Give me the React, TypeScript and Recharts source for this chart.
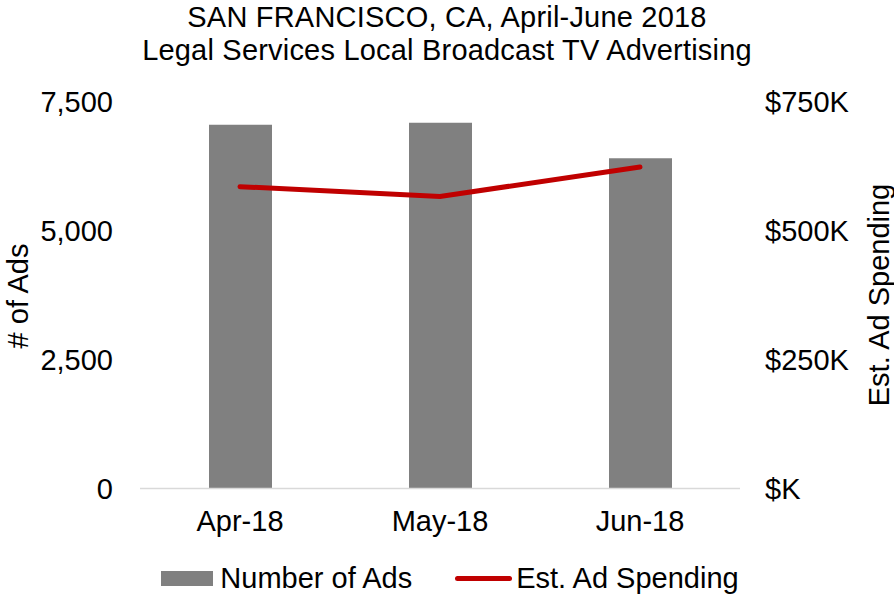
import React from 'react';
import {
  ComposedChart,
  Bar,
  Line,
  XAxis,
  YAxis,
  Legend,
} from 'recharts';

const months = ['Apr-18', 'May-18', 'Jun-18'];
const adCounts = [7050, 7090, 6400];
const adSpending = [585000, 566000, 623000];
const countTicks = [0, 2500, 5000, 7500];
const spendTicks = [0, 250000, 500000, 750000];

const FONT = '"Liberation Sans", Arial, sans-serif';
const GRAY = '#808080';
const RED = '#c00000';

const data = months.map((m, i) => ({
  month: m,
  ads: adCounts[i],
  spend: adSpending[i],
}));

const fmtCount = (v: number) => v.toLocaleString('en-US');
const fmtSpend = (v: number) => (v === 0 ? '$K' : `$${Math.round(v / 1000)}K`);

function LegendContent() {
  return (
    <div
      style={{
        height: 40,
        display: 'flex',
        alignItems: 'center',
        justifyContent: 'center',
        fontSize: 29,
        color: '#000',
        fontFamily: FONT,
        paddingLeft: 6,
      }}
    >
      <span style={{ display: 'inline-block', width: 52, height: 15, background: GRAY, marginRight: 7 }} />
      <span>Number of Ads</span>
      <span
        style={{
          display: 'inline-block',
          width: 57,
          height: 5,
          borderRadius: 3,
          background: RED,
          marginLeft: 43,
          marginRight: 4,
        }}
      />
      <span>Est. Ad Spending</span>
    </div>
  );
}

export default function App() {
  const tickStyle = { fill: '#000', fontSize: 29, fontFamily: FONT };
  return (
    <div style={{ position: 'absolute', left: 0, top: 0, width: 894, height: 598, background: '#fff', fontFamily: FONT }}>
      <div
        style={{
          position: 'absolute',
          top: 1,
          left: 0,
          width: 894,
          textAlign: 'center',
          fontSize: 29,
          letterSpacing: 0.2,
          lineHeight: '33px',
          color: '#000',
        }}
      >
        SAN FRANCISCO, CA, April-June 2018
        <br />
        Legal Services Local Broadcast TV Advertising
      </div>
      <div
        style={{
          position: 'absolute',
          left: 18,
          top: 296,
          transform: 'translate(-50%, -50%) rotate(-90deg)',
          fontSize: 29,
          whiteSpace: 'nowrap',
          color: '#000',
        }}
      >
        # of Ads
      </div>
      <div
        style={{
          position: 'absolute',
          left: 879,
          top: 295,
          transform: 'translate(-50%, -50%) rotate(-90deg)',
          fontSize: 29,
          whiteSpace: 'nowrap',
          color: '#000',
        }}
      >
        Est. Ad Spending
      </div>
      <ComposedChart
        width={894}
        height={598}
        data={data}
        margin={{ top: 101.5, right: 0, bottom: 0, left: 0 }}
        barCategoryGap={0}
      >
        <XAxis
          dataKey="month"
          height={69.5}
          tickLine={false}
          tickSize={0}
          tickMargin={22}
          axisLine={{ stroke: '#d9d9d9', strokeWidth: 1.5 }}
          tick={tickStyle}
          interval={0}
        />
        <YAxis
          yAxisId="left"
          orientation="left"
          width={140}
          domain={[0, 7500]}
          ticks={countTicks}
          tickFormatter={fmtCount}
          axisLine={false}
          tickLine={false}
          tickSize={0}
          tickMargin={27}
          tick={tickStyle}
        />
        <YAxis
          yAxisId="right"
          orientation="right"
          width={154}
          domain={[0, 750000]}
          ticks={spendTicks}
          tickFormatter={fmtSpend}
          axisLine={false}
          tickLine={false}
          tickSize={0}
          tickMargin={25}
          tick={tickStyle}
        />
        <Legend verticalAlign="bottom" content={<LegendContent />} />
        <Bar yAxisId="left" dataKey="ads" name="Number of Ads" fill={GRAY} barSize={63} isAnimationActive={false} />
        <Line
          yAxisId="right"
          type="linear"
          dataKey="spend"
          name="Est. Ad Spending"
          stroke={RED}
          strokeWidth={5}
          strokeLinecap="round"
          dot={false}
          activeDot={false}
          isAnimationActive={false}
        />
      </ComposedChart>
    </div>
  );
}
